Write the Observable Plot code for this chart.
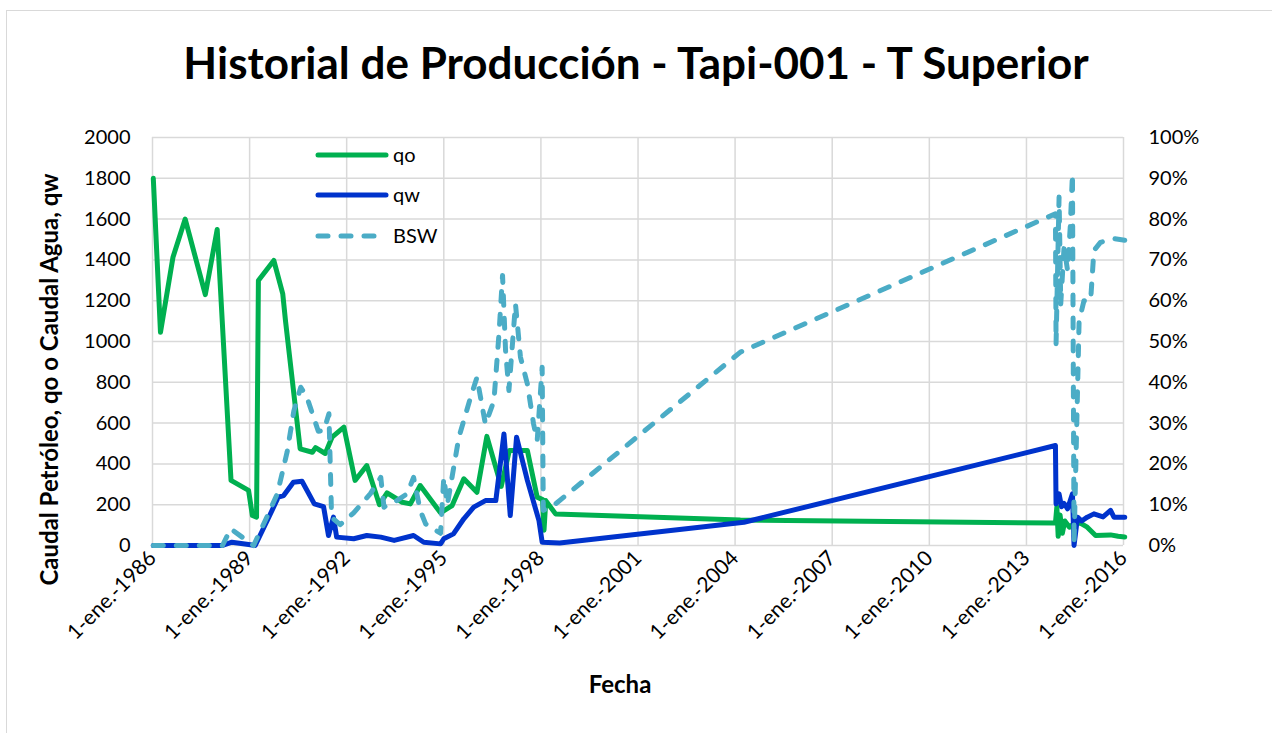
<!DOCTYPE html>
<html>
<head>
<meta charset="utf-8">
<script src="https://cdn.jsdelivr.net/npm/d3@7"></script>
<script src="https://cdn.jsdelivr.net/npm/@observablehq/plot@0.6"></script>
<style>
  html, body { margin: 0; padding: 0; background: #fff; }
  #wrap { position: relative; width: 1272px; height: 733px; overflow: hidden; font-family: Lato, "Open Sans", sans-serif; }
  #frame { position: absolute; left: 6px; top: 10px; width: 1300px; height: 800px; border-left: 1.5px solid #d9d9d9; border-top: 1.5px solid #d9d9d9; }
  #title { position: absolute; left: 0; top: 33px; width: 1272px; text-align: center; font-weight: 700; font-size: 44px; line-height: 58px; color: #000; }
  #chart { position: absolute; left: 0; top: 110px; }
  #legend { position: absolute; left: 0; top: 0; }
</style>
</head>
<body>
<div id="wrap">
  <div id="frame"></div>
  <div id="title"></div>
  <div id="chart"></div>
  <svg id="legend" width="1272" height="733"></svg>
</div>
<script>
// ---------- data ----------
const titleText = "Historial de Producción - Tapi-001 - T Superior";
const yTitle = "Caudal Petróleo, qo o Caudal Agua, qw";
const xTitle = "Fecha";
const seriesNames = ["qo", "qw", "BSW"];
const tickYears = [1986, 1989, 1992, 1995, 1998, 2001, 2004, 2007, 2010, 2013, 2016];
const leftTicks = [0, 200, 400, 600, 800, 1000, 1200, 1400, 1600, 1800, 2000];
const rightTicks = [0, 10, 20, 30, 40, 50, 60, 70, 80, 90, 100];

// qo (oil rate)
const qoDates = ["1986-01-10","1986-04-01","1986-08-20","1987-01-05","1987-08-20","1988-01-01","1988-06-05","1988-12-20","1989-02-01","1989-03-20","1989-04-10","1989-10-01","1990-01-10","1990-02-10","1990-07-25","1990-12-10","1991-01-15","1991-05-05","1991-07-20","1991-12-01","1992-04-05","1992-08-15","1993-01-05","1993-04-01","1993-09-20","1993-12-20","1994-04-10","1994-11-25","1995-04-05","1995-08-15","1996-01-10","1996-05-01","1996-10-10","1997-01-10","1997-08-01","1997-11-20","1998-01-20","1998-02-05","1998-02-25","1998-06-15","2004-03-01","2013-11-24","2013-12-10","2013-12-25","2014-01-15","2014-02-10","2014-03-10","2014-05-01","2014-06-22","2014-09-01","2014-11-18","2015-02-20","2015-08-08","2015-11-01","2016-01-15"];
const qoValues = [1800,1045,1413,1600,1230,1549,319,270,147,139,1299,1397,1233,1100,474,457,480,451,531,580,319,392,200,258,212,204,294,160,196,327,261,535,290,466,466,237,225,75,220,155,125,110,190,45,150,60,120,90,108,110,90,49,52,45,42];

// qw (water rate)
const qwDates = ["1986-01-10","1988-03-01","1988-06-15","1988-12-20","1989-03-05","1989-08-15","1989-11-20","1990-01-20","1990-05-10","1990-08-15","1991-01-01","1991-04-15","1991-06-10","1991-08-05","1991-09-10","1992-03-20","1992-08-15","1993-01-20","1993-06-20","1994-01-25","1994-05-20","1994-11-25","1995-01-01","1995-04-20","1995-08-15","1995-12-05","1996-04-15","1996-08-10","1996-11-10","1997-01-20","1997-04-01","1997-08-01","1997-12-10","1998-01-15","1998-08-01","2004-04-10","2013-11-24","2013-12-01","2014-01-04","2014-02-01","2014-03-01","2014-04-10","2014-06-04","2014-06-22","2014-07-31","2014-09-15","2014-11-18","2015-02-01","2015-05-15","2015-08-08","2015-09-15","2016-01-15"];
const qwValues = [0,0,16,5,0,147,237,245,310,315,204,191,49,139,41,33,49,41,25,49,16,8,33,57,131,188,220,220,547,147,531,319,122,16,12,114,490,204,253,190,206,180,253,0,139,120,139,155,140,172,139,139];

// BSW (%)
const bswDates = ["1986-01-10","1988-03-01","1988-06-01","1989-02-15","1989-07-15","1989-11-10","1990-03-01","1990-05-15","1990-08-01","1990-10-10","1991-02-15","1991-04-20","1991-06-15","1991-07-15","1991-10-20","1992-03-20","1992-09-25","1993-01-20","1993-02-25","1993-07-20","1993-11-15","1994-01-25","1994-04-10","1994-06-10","1994-11-25","1995-01-01","1995-02-10","1995-06-20","1995-10-30","1996-01-10","1996-04-15","1996-07-20","1996-09-15","1996-10-25","1996-11-28","1997-01-05","1997-03-20","1997-05-15","1997-08-01","1997-10-10","1997-11-20","1998-01-15","1998-01-28","1998-06-15","2004-03-01","2013-11-24","2013-12-01","2014-01-04","2014-01-23","2014-03-01","2014-04-10","2014-05-10","2014-06-04","2014-06-22","2014-08-18","2014-10-12","2014-12-26","2015-02-01","2015-04-16","2015-09-15","2016-01-15"];
const bswValues = [0,0,4.1,0,7,12.7,23,33,38.8,36.3,28,28.2,32.3,6.9,5.1,8,12.7,16.7,9.4,11,12.7,16.7,8.6,5.3,3,16.7,10,26.5,36.3,41.2,29.7,35.5,51.9,66.2,47.8,38,59.2,46.2,39.6,29.8,25.7,43.7,8.6,10.2,47.4,81.3,49.4,85.4,59.2,73.1,67.4,78,91.1,0.4,55,60,60,72.3,74.3,75.2,74.8];

// ---------- build ----------
const colors = {qo: "#00B050", qw: "#0033CC", BSW: "#4BACC6"};
const toRows = (dates, values) => dates.map((d, i) => ({date: new Date(d + "T00:00:00Z"), value: values[i]}));
const qoRows = toRows(qoDates, qoValues);
const qwRows = toRows(qwDates, qwValues);
const bswRows = toRows(bswDates, bswValues);
const xTicks = tickYears.map(y => new Date(Date.UTC(y, 0, 1)));
const pctScale = 2000 / 100; // secondary axis 0–100% mapped on 0–2000

document.getElementById("title").textContent = titleText;

const grid = {stroke: "#d9d9d9", strokeOpacity: 1, strokeWidth: 1.5};
const chart = Plot.plot({
  width: 1272,
  height: 623,
  marginLeft: 152,
  marginRight: 149,
  marginTop: 27,
  marginBottom: 188,
  style: {fontFamily: "Lato, 'Open Sans', sans-serif", fontSize: "20px", color: "#000", background: "transparent", overflow: "visible"},
  x: {type: "utc", domain: [xTicks[0], xTicks[xTicks.length - 1]]},
  y: {domain: [0, 2000]},
  marks: [
    Plot.gridX(xTicks, grid),
    Plot.gridY(leftTicks, grid),
    Plot.axisY(leftTicks, {anchor: "left", tickSize: 0, tickPadding: 22, tickFormat: d => String(d), label: null, fontSize: 20}),
    Plot.axisY(rightTicks.map(v => v * pctScale), {anchor: "right", tickSize: 0, tickPadding: 25, tickFormat: d => `${Math.round(d / pctScale)}%`, label: null, fontSize: 20}),
    Plot.axisX(xTicks, {anchor: "bottom", tickSize: 0, tickPadding: 9, tickRotate: -45, tickFormat: d => `1-ene.-${d.getUTCFullYear()}`, label: null, fontSize: 21}),
    Plot.line(qoRows, {x: "date", y: "value", stroke: colors.qo, strokeWidth: 5, strokeLinejoin: "round", strokeLinecap: "round"}),
    Plot.line(qwRows, {x: "date", y: "value", stroke: colors.qw, strokeWidth: 5, strokeLinejoin: "round", strokeLinecap: "round"}),
    Plot.line(bswRows, {x: "date", y: d => d.value * pctScale, stroke: colors.BSW, strokeWidth: 5, strokeDasharray: "10,13", strokeLinejoin: "round", strokeLinecap: "round"}),
    Plot.text([xTitle], {text: d => d, frameAnchor: "bottom", dx: -18, dy: 147, fontWeight: "bold", fontSize: 24}),
    Plot.text([yTitle], {text: d => d, frameAnchor: "left", textAnchor: "middle", dx: -102, dy: 38, rotate: -90, fontWeight: "bold", fontSize: 24})
  ]
});
document.getElementById("chart").appendChild(chart);

// ---------- legend overlay ----------
const leg = d3.select("#legend");
const legRows = [
  {name: seriesNames[0], color: colors.qo, dash: null, y: 155},
  {name: seriesNames[1], color: colors.qw, dash: null, y: 195},
  {name: seriesNames[2], color: colors.BSW, dash: "10,13", y: 236}
];
legRows.forEach(r => {
  leg.append("line").attr("x1", 318).attr("x2", r.dash ? 380 : 386).attr("y1", r.y).attr("y2", r.y)
    .attr("stroke", r.color).attr("stroke-width", 5).attr("stroke-linecap", "round")
    .attr("stroke-dasharray", r.dash);
  leg.append("text").attr("x", 393).attr("y", r.y + 7).text(r.name)
    .attr("font-family", "Lato, 'Open Sans', sans-serif").attr("font-size", 20).attr("fill", "#000");
});
</script>
</body>
</html>
